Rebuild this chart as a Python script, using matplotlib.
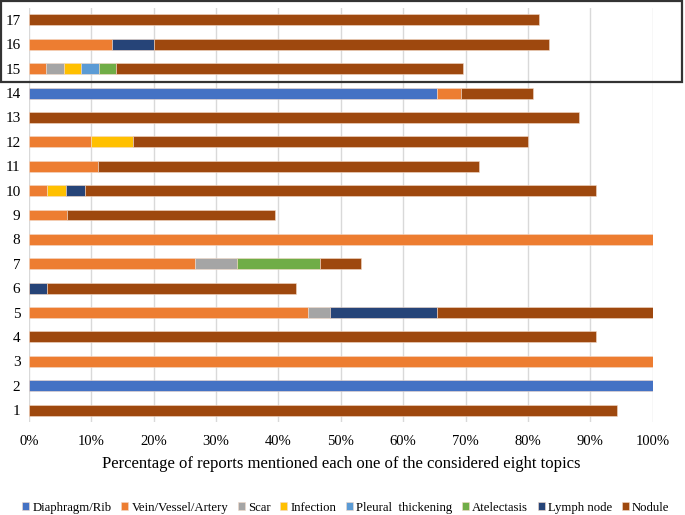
import numpy as np
import matplotlib.pyplot as plt
from matplotlib.patches import Rectangle

plt.rcParams['font.family'] = ['Liberation Serif', 'DejaVu Serif']

# reports 1..17
reports = [str(i) for i in range(1, 18)]
topics = ['Diaphragm/Rib', 'Vein/Vessel/Artery', 'Scar', 'Infection',
          'Pleural  thickening', 'Atelectasis', 'Lymph node', 'Nodule']
colors = ['#4472C4', '#ED7D31', '#A5A5A5', '#FFC000',
          '#5B9BD5', '#70AD47', '#264478', '#9E480E']

# share (%) of each topic per report
diaphragm = [0, 100, 0, 0, 0, 0, 0, 0, 0, 0, 0, 0, 0, 65.4, 0, 0, 0]
vein = [0, 0, 100, 0, 44.8, 0, 26.7, 100, 6.1, 3.0, 11.1, 10.0, 0, 3.8, 2.8, 13.3, 0]
scar = [0, 0, 0, 0, 3.4, 0, 6.7, 0, 0, 0, 0, 0, 0, 0, 2.8, 0, 0]
infection = [0, 0, 0, 0, 0, 0, 0, 0, 0, 3.0, 0, 6.7, 0, 0, 2.8, 0, 0]
pleural = [0, 0, 0, 0, 0, 0, 0, 0, 0, 0, 0, 0, 0, 0, 2.8, 0, 0]
atelectasis = [0, 0, 0, 0, 0, 0, 13.3, 0, 0, 0, 0, 0, 0, 0, 2.8, 0, 0]
lymph = [0, 0, 0, 0, 17.2, 2.9, 0, 0, 0, 3.0, 0, 0, 0, 0, 0, 6.7, 0]
nodule = [94.3, 0, 0, 90.9, 34.6, 40.0, 6.6, 0, 33.3, 81.9, 61.1, 63.3, 88.2, 11.6, 55.6, 63.3, 81.8]

series = [diaphragm, vein, scar, infection, pleural, atelectasis, lymph, nodule]

fig = plt.figure(figsize=(6.85, 5.15), dpi=100)
ax = fig.add_axes([0.042, 0.18, 0.911, 0.805])

y = np.arange(1, 18)
left = np.zeros(len(reports))
for name, vals, c in zip(topics, series, colors):
    vals = np.array(vals, dtype=float)
    ax.barh(y, vals / 100, left=left, height=0.45, color=c, label=name,
            edgecolor='#f3d9c8', linewidth=0.4)
    left += vals / 100

ax.set_xlim(0, 1.0)
ax.set_ylim(0.5, 17.5)
ax.set_yticks(y)
ax.set_yticklabels(reports, fontsize=11)
ax.set_xticks(np.arange(0, 1.01, 0.1))
ax.set_xticklabels([f'{int(round(v * 100))}%' for v in np.arange(0, 1.01, 0.1)], fontsize=10.5)
ax.tick_params(length=0, pad=9)
ax.tick_params(axis='y', pad=6)
ax.xaxis.grid(True, color='#d9d9d9', linewidth=1)
ax.set_axisbelow(True)
for s in ax.spines.values():
    s.set_visible(False)
ax.set_xlabel('Percentage of reports mentioned each one of the considered eight topics',
              fontsize=12, labelpad=6)

fig.legend(loc='lower center', bbox_to_anchor=(0.505, -0.02), ncol=8, frameon=False,
           fontsize=9.2, handlelength=0.55, handleheight=0.55, handletextpad=0.25,
           columnspacing=0.75)

# highlight box around reports 15-17
fig.add_artist(Rectangle((0.002, 1 - 82 / 515), 0.994, 82 / 515 - 0.002,
                         transform=fig.transFigure, fill=False,
                         edgecolor='#333333', linewidth=1.6))

fig.savefig('out.png', dpi=100)
